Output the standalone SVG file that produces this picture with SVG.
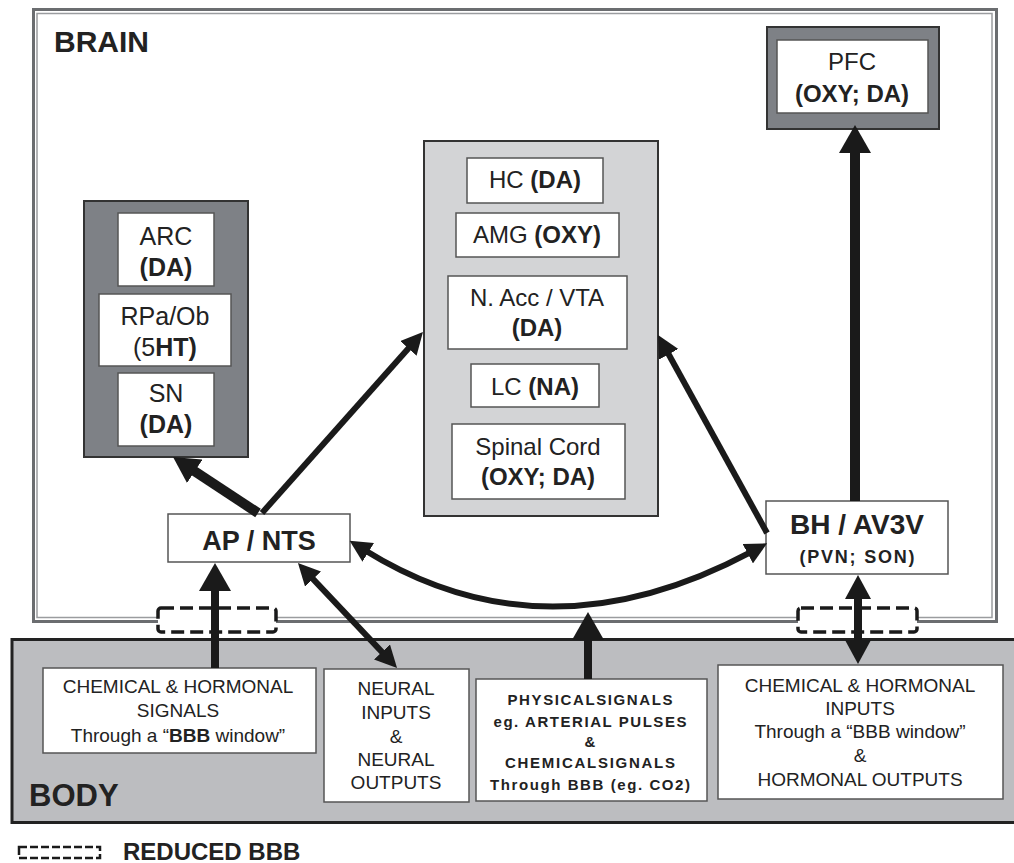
<svg xmlns="http://www.w3.org/2000/svg" width="1014" height="863" viewBox="0 0 1014 863">
<defs>
<style>
text{font-family:"Liberation Sans",Arial,sans-serif;fill:#222;text-anchor:middle}
.b{font-weight:bold}
.n{font-size:24px}
.s{font-size:19px}
.box{fill:#fff;stroke:#555;stroke-width:1.5}
.dark{fill:#7e8186;stroke:#333;stroke-width:2}
.light{fill:#d3d4d6;stroke:#333;stroke-width:2}
.ln{fill:none;stroke:#1a1a1a;stroke-linecap:butt}
.dash{fill:#fff;stroke:#1a1a1a;stroke-width:3.5;stroke-dasharray:13 6}
</style>
<marker id="big" viewBox="0 0 28 32" refX="4" refY="16" markerWidth="28" markerHeight="32" markerUnits="userSpaceOnUse" orient="auto-start-reverse"><path d="M0,0 L28,16 L0,32 z" fill="#1a1a1a"/></marker>
<marker id="mid" viewBox="0 0 26 28" refX="4" refY="14" markerWidth="26" markerHeight="28" markerUnits="userSpaceOnUse" orient="auto-start-reverse"><path d="M0,0 L26,14 L0,28 z" fill="#1a1a1a"/></marker>
<marker id="med" viewBox="0 0 22 22" refX="4" refY="11" markerWidth="22" markerHeight="22" markerUnits="userSpaceOnUse" orient="auto-start-reverse"><path d="M0,0 L22,11 L0,22 z" fill="#1a1a1a"/></marker>
<marker id="m2" viewBox="0 0 24 26" refX="4" refY="13" markerWidth="24" markerHeight="26" markerUnits="userSpaceOnUse" orient="auto-start-reverse"><path d="M0,0 L24,13 L0,26 z" fill="#1a1a1a"/></marker>
</defs>
<rect width="1014" height="863" fill="#fff"/>

<g id="brain">
<rect x="33.5" y="9.5" width="963" height="612" fill="#fff" stroke="#6b6d70" stroke-width="3"/>
<rect x="37" y="13.5" width="955" height="604" fill="none" stroke="#9a9c9f" stroke-width="1.5"/>
<text x="54" y="52" class="b" style="font-size:30px;text-anchor:start">BRAIN</text>
</g>

<g id="body">
<rect x="12" y="639.5" width="1010" height="183" fill="#bcbdc0" stroke="#222" stroke-width="3"/>
<text x="29" y="806" class="b" style="font-size:31px;text-anchor:start">BODY</text>
</g>

<g id="left-group">
<rect x="84" y="201" width="164" height="256" class="dark"/>
<g id="arc">
<rect x="118" y="213" width="96" height="73" class="box"/>
<text x="166" y="245" style="font-size:25px">ARC</text>
<text x="166" y="276" class="b" style="font-size:25px">(DA)</text>
</g>
<g id="rpa">
<rect x="99" y="294" width="132" height="72" class="box"/>
<text x="165" y="325" style="font-size:25px">RPa/Ob</text>
<text x="165" y="356" style="font-size:25px">(5<tspan class="b">HT)</tspan></text>
</g>
<g id="sn">
<rect x="118" y="373" width="96" height="73" class="box"/>
<text x="166" y="402" style="font-size:25px">SN</text>
<text x="166" y="433" class="b" style="font-size:25px">(DA)</text>
</g>
</g>

<g id="pfc">
<rect x="767" y="27" width="172" height="102" class="dark"/>
<rect x="777" y="40" width="151" height="73" class="box"/>
<text x="852" y="70" class="n">PFC</text>
<text x="852" y="102" class="n b">(OXY; DA)</text>
</g>

<g id="center-group">
<rect x="424" y="141" width="234" height="375" class="light"/>
<g id="hc">
<rect x="467" y="158" width="136" height="45" class="box"/>
<text x="535" y="188" class="n">HC <tspan class="b">(DA)</tspan></text>
</g>
<g id="amg">
<rect x="456" y="213" width="163" height="44" class="box"/>
<text x="537" y="243" class="n">AMG <tspan class="b">(OXY)</tspan></text>
</g>
<g id="nacc">
<rect x="448" y="276" width="179" height="73" class="box"/>
<text x="537" y="306" class="n">N. Acc / VTA</text>
<text x="537" y="336" class="n b">(DA)</text>
</g>
<g id="lc">
<rect x="471" y="364" width="128" height="43" class="box"/>
<text x="535" y="395" class="n">LC <tspan class="b">(NA)</tspan></text>
</g>
<g id="spinal">
<rect x="452" y="424" width="173" height="75" class="box"/>
<text x="538" y="455" class="n">Spinal Cord</text>
<text x="538" y="485" class="n b">(OXY; DA)</text>
</g>
</g>

<g id="apnts">
<rect x="168" y="514" width="182" height="48" class="box"/>
<text x="259" y="550" class="b" style="font-size:27px">AP / NTS</text>
</g>

<g id="bhav3v">
<rect x="766" y="501" width="182" height="73" class="box"/>
<text x="857" y="534" class="b" style="font-size:28px">BH / AV3V</text>
<text x="857" y="563" class="b" style="font-size:18px" textLength="115" lengthAdjust="spacing">(PVN; SON)</text>
</g>

<g id="bbb-left"><rect x="158" y="608" width="118" height="24" rx="3" class="dash"/></g>
<g id="bbb-right"><rect x="798" y="608" width="119" height="24" rx="3" class="dash"/></g>

<g id="body1">
<rect x="43" y="668" width="273" height="85" class="box"/>
<text x="178" y="693" class="s">CHEMICAL &amp; HORMONAL</text>
<text x="178" y="717" class="s">SIGNALS</text>
<text x="178" y="742" class="s">Through a “<tspan class="b">BBB</tspan> window”</text>
</g>
<g id="body2">
<rect x="324" y="669" width="145" height="133" class="box"/>
<text x="396" y="695" class="s">NEURAL</text>
<text x="396" y="719" class="s">INPUTS</text>
<text x="396" y="743" class="s">&amp;</text>
<text x="396" y="766" class="s">NEURAL</text>
<text x="396" y="789" class="s">OUTPUTS</text>
</g>
<g id="body3">
<rect x="476" y="679" width="231" height="122" class="box"/>
<text x="590" y="705" class="b" style="font-size:15px" textLength="165" lengthAdjust="spacing">PHYSICALSIGNALS</text>
<text x="590" y="727" class="b" style="font-size:15px" textLength="193" lengthAdjust="spacing">eg. ARTERIAL PULSES</text>
<text x="590" y="747" class="b" style="font-size:15px">&amp;</text>
<text x="590" y="768" class="b" style="font-size:15px" textLength="170" lengthAdjust="spacing">CHEMICALSIGNALS</text>
<text x="590" y="790" class="b" style="font-size:15px" textLength="200" lengthAdjust="spacing">Through BBB (eg. CO2)</text>
</g>
<g id="body4">
<rect x="718" y="665" width="285" height="134" class="box"/>
<text x="860" y="692" class="s">CHEMICAL &amp; HORMONAL</text>
<text x="860" y="715" class="s">INPUTS</text>
<text x="860" y="738" class="s">Through a “BBB window”</text>
<text x="860" y="762" class="s">&amp;</text>
<text x="860" y="786" class="s">HORMONAL OUTPUTS</text>
</g>

<g id="connectors">
<path d="M215,668 L215,587" class="ln" stroke-width="8" marker-end="url(#big)"/>
<path d="M258,513 L191.4,469.1" class="ln" stroke-width="10" marker-end="url(#mid)"/>
<path d="M262,513 L411,345.4" class="ln" stroke-width="6" marker-end="url(#med)"/>
<path d="M310.3,576.1 L384.7,654.9" class="ln" stroke-width="6" marker-start="url(#med)" marker-end="url(#med)"/>
<path d="M364.9,550.2 Q545,662 751.3,551.8" class="ln" stroke-width="6" marker-start="url(#med)" marker-end="url(#med)"/>
<path d="M588,679 L588,636" class="ln" stroke-width="8" marker-end="url(#big)"/>
<path d="M767,533 L666.7,350.8" class="ln" stroke-width="6" marker-end="url(#med)"/>
<path d="M855,501 L855,149" class="ln" stroke-width="10" marker-end="url(#big)"/>
<path d="M858,595 L858,644" class="ln" stroke-width="8" marker-start="url(#m2)" marker-end="url(#m2)"/>
</g>

<g id="legend">
<rect x="19" y="847" width="81" height="11" fill="none" stroke="#1a1a1a" stroke-width="2.5" stroke-dasharray="8 3"/>
<text x="123" y="860" class="b" style="font-size:24px;text-anchor:start">REDUCED BBB</text>
</g>
</svg>
